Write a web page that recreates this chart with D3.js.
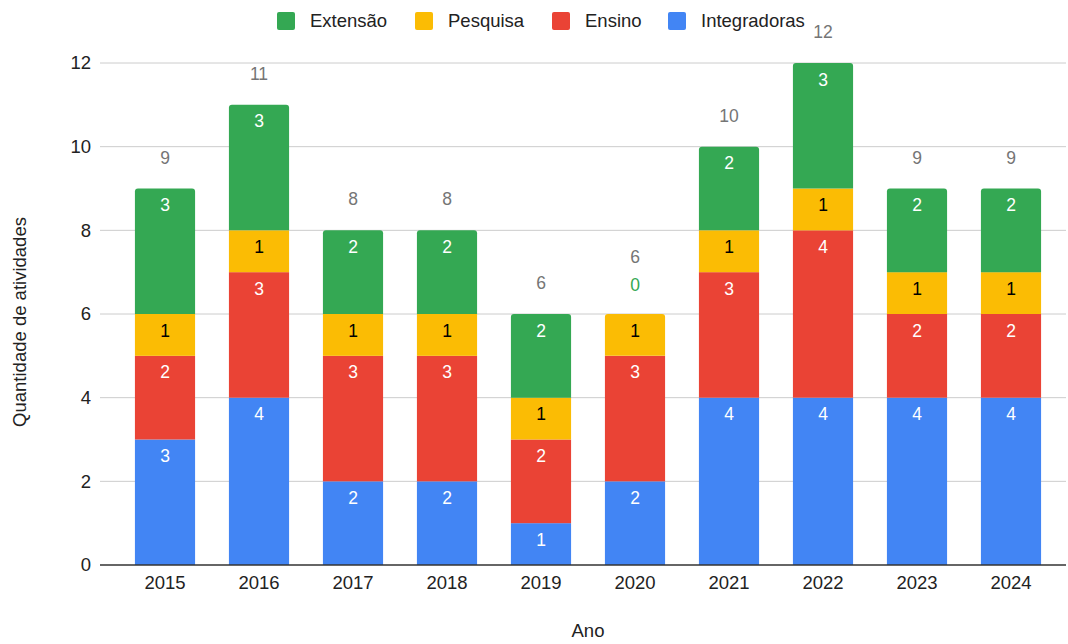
<!DOCTYPE html>
<html><head><meta charset="utf-8">
<script src="https://cdn.jsdelivr.net/npm/d3@7"></script>
<style>body{margin:0;background:#fff}svg{display:block;font-family:"Liberation Sans",Arial,sans-serif}</style>
</head><body><svg id="c" width="1068" height="644"></svg>
<script>
const years = ["2015","2016","2017","2018","2019","2020","2021","2022","2023","2024"];
const integradoras = [3,4,2,2,1,2,4,4,4,4];
const ensino = [2,3,3,3,2,3,3,4,2,2];
const pesquisa = [1,1,1,1,1,1,1,1,1,1];
const extensao = [3,3,2,2,2,0,2,3,2,2];
const yTicks = [0,2,4,6,8,10,12];
const seriesNames = ["Integradoras","Ensino","Pesquisa","Extensão"];
const seriesColors = ["#4285f4","#ea4335","#fbbc04","#34a853"];
const labelColors = ["#fff","#fff","#000","#fff"];
const legendOrder = [3,2,1,0];

const FS = 18.5, VS = 17.5;
const svg = d3.select("#c");
const x = d3.scaleBand().domain(years).range([118,1058]).paddingInner(0.36).paddingOuter(0.18);
const y = d3.scaleLinear().domain([0,12]).range([565,63]);

const rows = years.map((yr,i)=>({year:yr, Integradoras:integradoras[i], Ensino:ensino[i], Pesquisa:pesquisa[i], "Extensão":extensao[i]}));
const stacked = d3.stack().keys(seriesNames)(rows);

// gridlines
svg.append("g").selectAll("line").data(yTicks.filter(t=>t>0)).join("line")
  .attr("x1",100).attr("x2",1066).attr("y1",d=>y(d)).attr("y2",d=>y(d))
  .attr("stroke","#cccccc").attr("stroke-width",1);

// y tick labels
svg.append("g").selectAll("text").data(yTicks).join("text")
  .attr("x",91).attr("y",d=>y(d)).attr("dy","0.35em").attr("text-anchor","end")
  .attr("font-size",FS).attr("fill","#222").text(d=>d);

// bars
stacked.forEach((s,si)=>{
  const g = svg.append("g");
  s.forEach((d,i)=>{
    const h = y(d[0]) - y(d[1]);
    if (h<=0) return;
    const isTop = stacked.slice(si+1).every(ss=>ss[i][1]-ss[i][0]===0);
    const x0 = x(d.data.year), w = x.bandwidth(), y0 = y(d[1]);
    if (isTop){
      const r=3;
      g.append("path").attr("d",`M${x0},${y0+h} V${y0+r} Q${x0},${y0} ${x0+r},${y0} H${x0+w-r} Q${x0+w},${y0} ${x0+w},${y0+r} V${y0+h} Z`).attr("fill",seriesColors[si]);
    } else {
      g.append("rect").attr("x",x0).attr("y",y0).attr("width",w).attr("height",h).attr("fill",seriesColors[si]);
    }
  });
});

// segment labels
stacked.forEach((s,si)=>{
  s.forEach((d,i)=>{
    const v = d[1]-d[0];
    const cx = x(d.data.year)+x.bandwidth()/2;
    if (v>0){
      svg.append("text").attr("x",cx).attr("y",y(d[1])+16.5).attr("dy","0.35em")
        .attr("text-anchor","middle").attr("font-size",VS).attr("fill",labelColors[si]).text(v);
    } else {
      svg.append("text").attr("x",cx).attr("y",y(d[1])-29).attr("dy","0.35em")
        .attr("text-anchor","middle").attr("font-size",VS).attr("fill",seriesColors[si]).text(v);
    }
  });
});

// totals
rows.forEach((r,i)=>{
  const tot = seriesNames.reduce((a,k)=>a+r[k],0);
  const hasZero = seriesNames.some(k=>r[k]===0);
  svg.append("text").attr("x",x(r.year)+x.bandwidth()/2).attr("y",y(tot)-(hasZero?57:31)).attr("dy","0.35em")
    .attr("text-anchor","middle").attr("font-size",VS).attr("fill","#757575").text(tot);
});

// baseline
svg.append("line").attr("x1",100).attr("x2",1066).attr("y1",y(0)).attr("y2",y(0)).attr("stroke","#333").attr("stroke-width",1.5);

// x labels
svg.append("g").selectAll("text").data(years).join("text")
  .attr("x",d=>x(d)+x.bandwidth()/2).attr("y",583).attr("dy","0.35em").attr("text-anchor","middle")
  .attr("font-size",FS).attr("fill","#222").text(d=>d);

// axis titles
svg.append("text").attr("x",588).attr("y",631).attr("dy","0.35em").attr("text-anchor","middle")
  .attr("font-size",FS).attr("fill","#222").text("Ano");
svg.append("text").attr("transform","translate(20,322) rotate(-90)").attr("dy","0.35em").attr("text-anchor","middle")
  .attr("font-size",FS).attr("fill","#222").text("Quantidade de atividades");

// legend
const legX = [277,415,552,668];
legendOrder.forEach((si,k)=>{
  svg.append("rect").attr("x",legX[k]).attr("y",12).attr("width",18).attr("height",18).attr("rx",2).attr("fill",seriesColors[si]);
  svg.append("text").attr("x",legX[k]+33).attr("y",21).attr("dy","0.35em").attr("font-size",FS).attr("fill","#222").text(seriesNames[si]);
});
</script></body></html>
